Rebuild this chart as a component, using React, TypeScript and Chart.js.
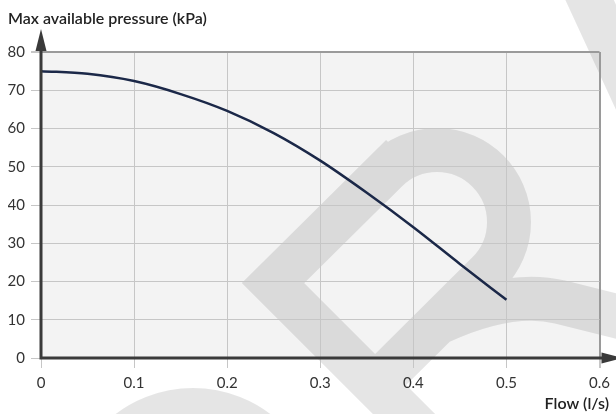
import React, { useEffect, useRef } from "react";
import { Chart, registerables } from "chart.js";

Chart.register(...registerables);

const flow = [0, 0.05, 0.1, 0.15, 0.2, 0.25, 0.3, 0.35, 0.4, 0.45, 0.5];
const pressure = [75, 74.3, 72.4, 69, 64.6, 58.8, 51.6, 43.2, 34.2, 24.6, 15.2];
const xTickLabels = ["0", "0.1", "0.2", "0.3", "0.4", "0.5", "0.6"];
const yTitle = "Max available pressure (kPa)";
const xTitle = "Flow (l/s)";

const FONT = "Lato, 'Noto Sans', sans-serif";

const decor = {
  id: "decor",
  beforeDraw(chart: any) {
    const { ctx, chartArea } = chart;
    const { left, top, right, bottom } = chartArea;
    ctx.save();
    ctx.fillStyle = "#f3f3f3";
    ctx.fillRect(left, top, right - left, bottom - top);
    // watermark logo
    ctx.strokeStyle = "rgba(0,0,0,0.1)";
    ctx.lineWidth = 44;
    ctx.lineCap = "butt";
    ctx.lineJoin = "miter";
    ctx.beginPath();
    ctx.moveTo(470, 480);
    ctx.lineTo(273, 283);
    ctx.lineTo(386, 171);
    ctx.arc(437, 222, 72, (-3 * Math.PI) / 4, Math.PI / 4, false);
    ctx.lineTo(372, 388);
    ctx.moveTo(440, 322);
    ctx.quadraticCurveTo(510, 290, 560, 302);
    ctx.lineTo(640, 322);
    ctx.moveTo(585, -10);
    ctx.lineTo(645, 120);
    ctx.moveTo(193 - 106, 516);
    ctx.arc(193, 516, 106, Math.PI, 2 * Math.PI, false);
    ctx.stroke();
    ctx.restore();
  },
  afterDraw(chart: any) {
    const { ctx, chartArea } = chart;
    const { left, top, right, bottom } = chartArea;
    ctx.save();
    ctx.strokeStyle = "#3a3a3a";
    ctx.fillStyle = "#3a3a3a";
    ctx.lineWidth = 3;
    ctx.beginPath();
    ctx.moveTo(left, bottom + 1.5);
    ctx.lineTo(left, top - 2);
    ctx.moveTo(left - 1.5, bottom);
    ctx.lineTo(right + 4, bottom);
    ctx.stroke();
    ctx.beginPath();
    ctx.moveTo(left, top - 23);
    ctx.lineTo(left - 5.5, top - 1);
    ctx.lineTo(left + 5.5, top - 1);
    ctx.closePath();
    ctx.fill();
    ctx.beginPath();
    ctx.moveTo(right + 23, bottom);
    ctx.lineTo(right + 2, bottom - 5.5);
    ctx.lineTo(right + 2, bottom + 5.5);
    ctx.closePath();
    ctx.fill();
    ctx.fillStyle = "#222";
    ctx.font = `600 16px ${FONT}`;
    ctx.textBaseline = "middle";
    ctx.textAlign = "left";
    ctx.fillText(yTitle, 8, 19);
    ctx.textAlign = "right";
    ctx.fillText(xTitle, 609, 404);
    ctx.restore();
  },
};

export default function App() {
  const ref = useRef<HTMLCanvasElement>(null);
  useEffect(() => {
    document.body.style.margin = "0";
    const canvas = ref.current!;
    const isTopY = (v: number) => Math.abs(v - 80) < 1e-6;
    const isRightX = (v: number) => Math.abs(v - 0.6) < 1e-6;
    const chart = new Chart(canvas, {
      type: "line",
      data: {
        datasets: [
          {
            data: flow.map((x, i) => ({ x, y: pressure[i] })),
            borderColor: "#1b2848",
            borderWidth: 2.5,
            pointRadius: 0,
            fill: false,
            cubicInterpolationMode: "monotone",
          },
        ],
      },
      options: {
        responsive: false,
        animation: false,
        events: [],
        layout: { padding: { top: 52, left: 8, right: 16, bottom: 26 } },
        plugins: { legend: { display: false }, tooltip: { enabled: false }, title: { display: false } },
        scales: {
          x: {
            type: "linear",
            min: 0,
            max: 0.6,
            afterFit: (s: any) => {
              s.height = 30;
            },
            border: { display: false },
            grid: {
              color: (c: any) => (c.tick && isRightX(c.tick.value) ? "#9a9a9a" : "#c6c6c6"),
              lineWidth: (c: any) => (c.tick && isRightX(c.tick.value) ? 2 : 1),
              tickColor: "#c6c6c6",
              tickLength: 10,
            },
            ticks: {
              stepSize: 0.1,
              padding: 6,
              color: "#333",
              font: { family: FONT, size: 15 },
              maxRotation: 0,
              callback: (v: any) => xTickLabels[Math.round(Number(v) * 10)] ?? "",
            },
          },
          y: {
            min: 0,
            max: 80,
            afterFit: (s: any) => {
              s.width = 33;
            },
            border: { display: false },
            grid: {
              color: (c: any) => (c.tick && isTopY(c.tick.value) ? "#9a9a9a" : "#c6c6c6"),
              lineWidth: (c: any) => (c.tick && isTopY(c.tick.value) ? 2 : 1),
              tickColor: "#c6c6c6",
              tickLength: 10,
            },
            ticks: {
              stepSize: 10,
              padding: 6,
              color: "#333",
              font: { family: FONT, size: 15 },
            },
          },
        },
      },
      plugins: [decor],
    });
    return () => chart.destroy();
  }, []);
  return (
    <div style={{ width: 616, height: 414 }}>
      <canvas ref={ref} width={616} height={414} style={{ display: "block" }} />
    </div>
  );
}
